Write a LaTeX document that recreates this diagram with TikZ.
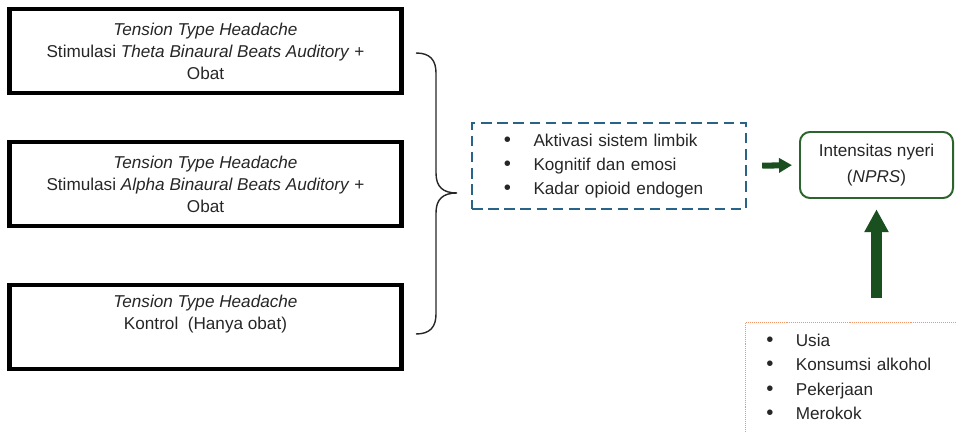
\documentclass[tikz,border=0pt]{standalone}
\usepackage{fontspec}
\setmainfont{Liberation Sans}
\usetikzlibrary{arrows.meta}

\definecolor{boxblue}{RGB}{40,100,135}
\definecolor{leafgreen}{RGB}{45,100,45}
\definecolor{arrowgreen}{RGB}{26,80,32}
\definecolor{peach}{RGB}{240,150,105}
\definecolor{ink}{RGB}{38,38,38}

% bullet item with a fixed gap before the text
\newcommand{\itm}[1]{\makebox[21pt][l]{\fontsize{14.5}{14.5}\selectfont\textbullet}#1}

\tikzset{
  group/.style={draw=black, line width=3.5pt, minimum width=9.775cm,
    minimum height=2.1cm, align=center, text=ink,
    font=\fontsize{12.2}{15.6}\selectfont},
  mediator/.style={draw=boxblue, line width=1.8pt, dash pattern=on 7.5pt off 4pt,
    minimum width=6.85cm, minimum height=2.15cm, inner xsep=0.8cm,
    text width=5.25cm, align=left, text=ink,
    font=\fontsize{12.2}{17}\selectfont},
  outcome/.style={draw=leafgreen, line width=1.4pt, rounded corners=0.25cm,
    minimum width=3.825cm, minimum height=1.65cm, align=center, text=ink,
    font=\fontsize{12.2}{18}\selectfont},
  factorbox/.style={draw=peach, line width=0.7pt, dash pattern=on 0.7pt off 0.7pt,
    anchor=north west, inner xsep=0.52cm, inner ysep=0.28cm, text width=6cm,
    text depth=3cm, align=left, text=ink,
    font=\fontsize{12.2}{17.4}\selectfont},
  fatarrow/.style={draw=arrowgreen},
  bracket/.style={draw=ink, line width=1pt}
}

\begin{document}
\begin{tikzpicture}[x=0.025cm, y=-0.025cm]
    \clip (0,0) rectangle (956,432);

    % the three groups
    \node[group] (theta) at (205.5,51) {\textit{Tension Type Headache}\\Stimulasi \textit{Theta Binaural Beats Auditory} +\\Obat};
    \node[group] (alpha) at (205.5,184) {\textit{Tension Type Headache}\\Stimulasi \textit{Alpha Binaural Beats Auditory} +\\Obat};
    \node[group] (kontrol) at (205.5,327) {\textit{Tension Type Headache}\\Kontrol\ \ (Hanya obat)\\\strut};

    % brace gathering the groups
    \draw[bracket] (416,53) .. controls (430,53) and (436,60) .. (436,73) -- (436,173)
        .. controls (436,187) and (443,193) .. (457,193)
        .. controls (443,193) and (436,199) .. (436,213) -- (436,314)
        .. controls (436,327) and (430,334) .. (416,334);

    \node[mediator] (mech) at (609,166) {\itm{Aktivasi sistem limbik}\\\itm{Kognitif dan emosi}\\\itm{Kadar opioid endogen}};

    \node[outcome] (nyeri) at (876.5,165) {Intensitas nyeri\\(\textit{NPRS})};

    \node[factorbox] (faktor) at (745,322) {\itm{Usia}\\\itm{Konsumsi alkohol}\\\itm{Pekerjaan}\\\itm{Merokok}};

    % arrows into the outcome
    \draw[fatarrow, line width=4.3pt, -{Triangle[length=9.2pt,width=10pt]},
        shorten <=10.6pt, shorten >=5pt] (mech.east) -- (nyeri.west);
    \draw[fatarrow, line width=8.5pt, -{Triangle[length=16.3pt,width=16.3pt]},
        shorten <=16.8pt, shorten >=7.3pt] (nyeri.south |- faktor.north) -- (nyeri.south);
\end{tikzpicture}
\end{document}
